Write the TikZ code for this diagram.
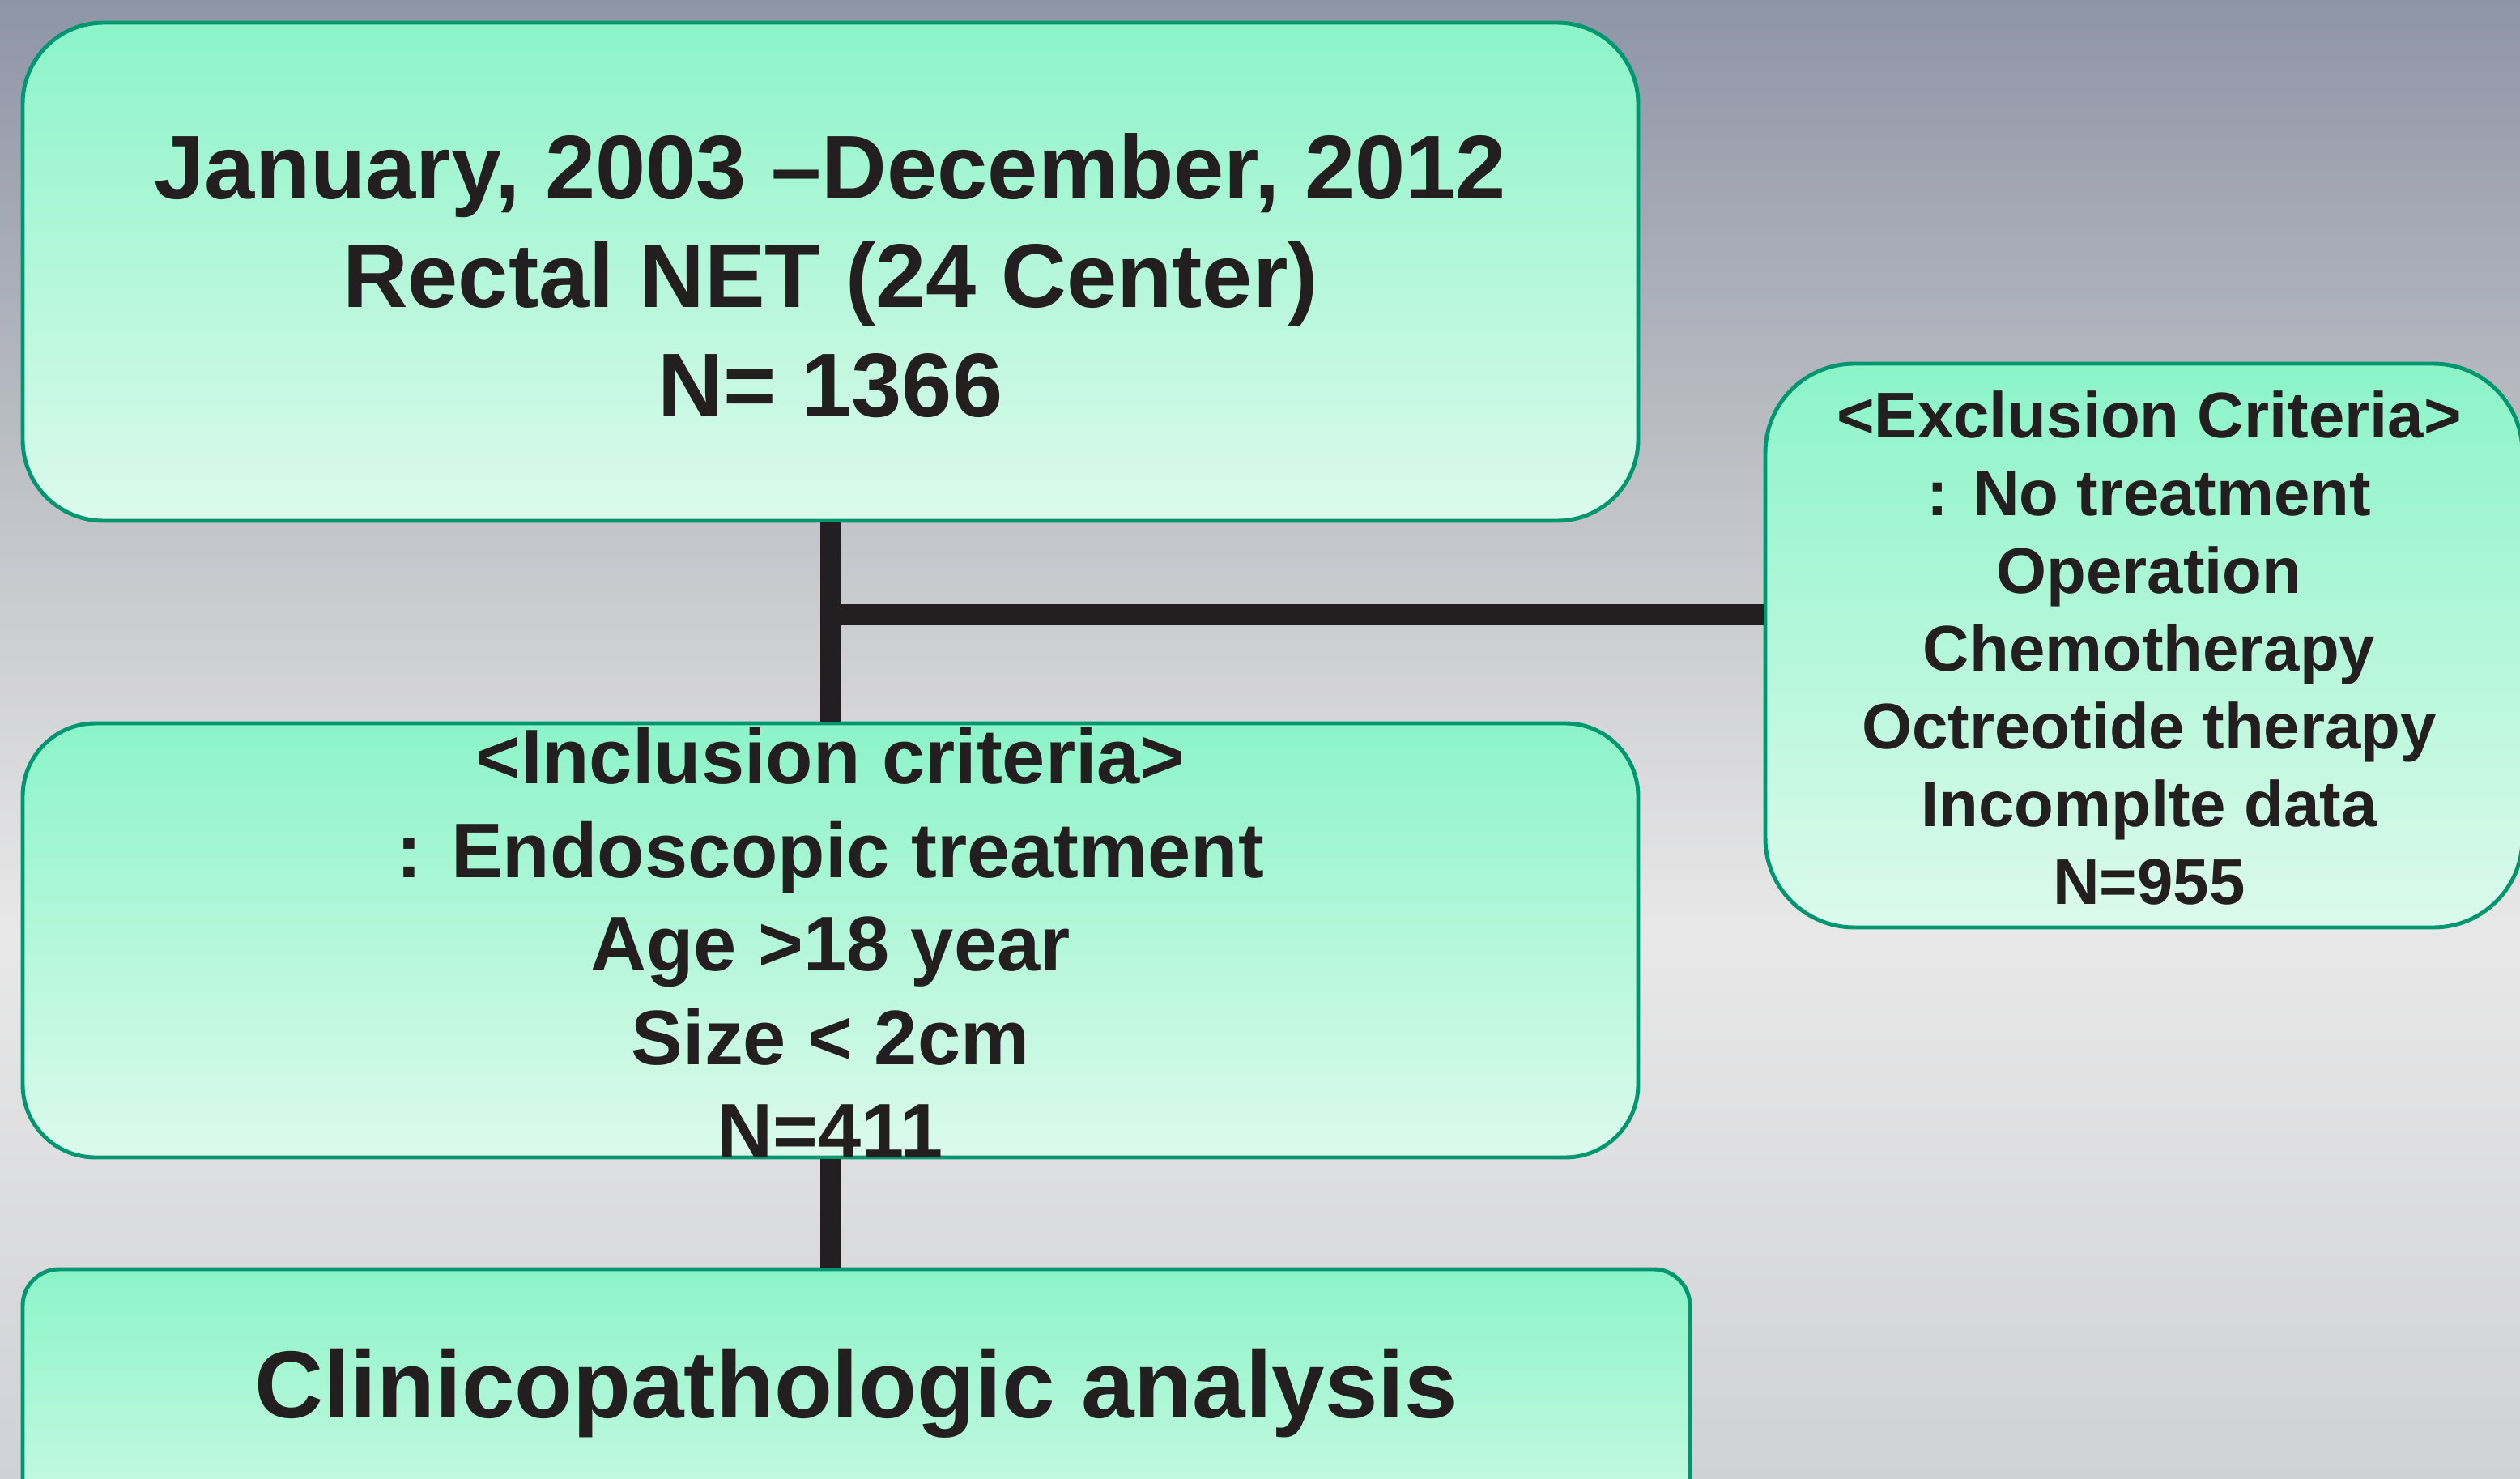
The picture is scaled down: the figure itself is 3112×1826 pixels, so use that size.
\documentclass[tikz,border=0pt]{standalone}
\usepackage{fontspec}
\setmainfont{Liberation Sans}
\usepackage{tikz}
\usetikzlibrary{positioning}
\definecolor{ink}{HTML}{231F20}
\definecolor{boxline}{HTML}{009670}
\definecolor{boxtop}{HTML}{8CF4C8}
\definecolor{boxbot}{HTML}{DCFAEC}
\definecolor{bgtop}{HTML}{8E95A6}
\definecolor{bgmid}{HTML}{C3C4C9}
\definecolor{bglight}{HTML}{E8E8E8}
\definecolor{bgbot}{HTML}{D0D1D5}
\pgfdeclareverticalshading{bgshade}{100bp}{color(0bp)=(bgbot); color(25bp)=(bgbot); color(43.5bp)=(bglight); color(57.5bp)=(bgmid); color(75bp)=(bgtop); color(100bp)=(bgtop)}

\begin{document}
\begin{tikzpicture}[x=0.1mm,y=-0.1mm,
  box/.style={draw=boxline, line width=1.4pt, top color=boxtop, bottom color=boxbot, inner sep=0pt},
  link/.style={draw=ink, line width=7.3pt},
  txt/.style={align=center, inner sep=0pt, text=ink},
  hugetxt/.style={txt, font=\fontsize{33.5}{40}\selectfont\bfseries},
  bigtxt/.style={txt, font=\fontsize{31.8}{38.2}\selectfont\bfseries},
  midtxt/.style={txt, font=\fontsize{27.2}{32.9}\selectfont\bfseries},
  smalltxt/.style={txt, font=\fontsize{22.7}{27.3}\selectfont\bfseries}]
\path[shading=bgshade] (0,0) rectangle (3112,1826);
\useasboundingbox (0,0) rectangle (3112,1826);

\node[box, rounded corners=10mm, minimum width=199.5mm, minimum height=61.5mm] (period) at (1025.5,335.5) {};
\node[box, rounded corners=9mm, minimum width=199.5mm, minimum height=53.6mm] (incl) at (1025.5,1161) {};
\node[box, rounded corners=11mm, minimum width=93.5mm, minimum height=69.6mm] (excl) at (2647.5,797) {};
\node[box, rounded corners=4.5mm, minimum width=205.9mm, minimum height=40mm] (analysis) at (1057.5,1767) {};

\coordinate (junc) at (1025.5,759);
\draw[link] (period.south) -- (incl.north);
\draw[link] (junc) -- (junc -| excl.west);
\draw[link] (incl.south) -- (incl.south |- analysis.north);

\node[bigtxt] (periodtxt) at (1025.5,340) {January, 2003 --December, 2012\\Rectal NET (24 Center)\\N= 1366};
\node[midtxt] (incltxt) at (1025.5,1164) {<Inclusion criteria>\\: Endoscopic treatment\\Age >18 year\\Size < 2cm\\N=411};
\node[smalltxt] (excltxt) at (2654,800) {<Exclusion Criteria>\\: No treatment\\Operation\\Chemotherapy\\Octreotide therapy\\Incomplte data\\N=955};
\node[hugetxt] (analysistxt) at (1057.5,1720) {Clinicopathologic analysis};
\end{tikzpicture}
\end{document}
